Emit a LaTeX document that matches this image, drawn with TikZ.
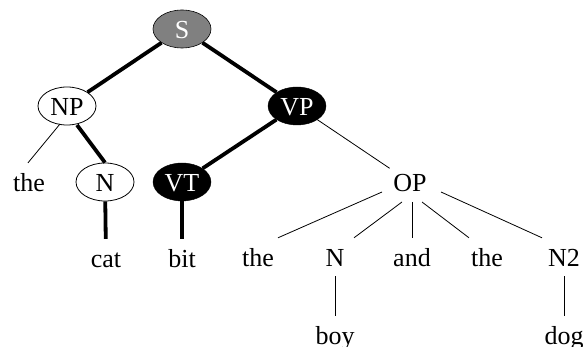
\documentclass[tikz,border=0pt]{standalone}
\usepackage{fontspec}
\setmainfont{Liberation Serif}
\usetikzlibrary{shapes.geometric}
\begin{document}
\begin{tikzpicture}[x=1pt,y=-1pt,
  every node/.style={ellipse,inner sep=0pt,minimum width=58pt,minimum height=38pt,
    font=\fontsize{26}{30}\selectfont,text height=20pt,text depth=0pt},
  plain/.style={draw=none},
  openn/.style={draw=black,line width=0.8pt,fill=white},
  darkn/.style={draw=black,fill=black,text=white},
  grayn/.style={draw=black,line width=0.6pt,fill=gray,text=white},
  thick edge/.style={line width=3.8pt},
  thin edge/.style={line width=0.8pt}]
\useasboundingbox (0,0) rectangle (584,347);
\node[grayn] (S) at (182,29) {S};
\node[openn] (NP) at (67,106) {NP};
\node[darkn] (VP) at (297,106) {VP};
\node[plain] (the1) at (29,182) {the};
\node[openn] (N1) at (105,182) {N};
\node[darkn] (VT) at (182,182) {VT};
\node[plain] (OP) at (410,182) {OP};
\node[plain] (cat) at (106,258) {cat};
\node[plain] (bit) at (182,258) {bit};
\node[plain] (the2) at (258,257) {the};
\node[plain] (N2a) at (335,257) {N};
\node[plain] (and) at (412,257) {and};
\node[plain] (the3) at (487,257) {the};
\node[plain] (N2) at (564,257) {N2};
\node[plain] (boy) at (335,335) {boy};
\node[plain] (dog) at (564,335) {dog};
\draw[thick edge] (S) -- (NP);
\draw[thick edge] (S) -- (VP);
\draw[thin edge] ([shift={(-7,18)}]NP.center) -- ([shift={(-1,0)}]the1.north);
\draw[thick edge] ([shift={(10,19)}]NP.center) -- (N1.north);
\draw[thick edge] (VP) -- (VT);
\draw[thin edge] (VP) -- (OP);
\draw[thick edge] (N1) -- (cat);
\draw[thick edge] (VT) -- (bit);
\draw[thin edge] ([shift={(-28,10)}]OP.center) -- ([shift={(20,0)}]the2.north);
\draw[thin edge] ([shift={(-8,20)}]OP.center) -- ([shift={(19,0)}]N2a.north);
\draw[thin edge] ([shift={(2,20)}]OP.center) -- (and.north);
\draw[thin edge] ([shift={(12,20)}]OP.center) -- ([shift={(-18,0)}]the3.north);
\draw[thin edge] ([shift={(31,10)}]OP.center) -- ([shift={(-22,0)}]N2.north);
\draw[thin edge] (N2a) -- (boy);
\draw[thin edge] (N2) -- (dog);
\end{tikzpicture}
\end{document}
